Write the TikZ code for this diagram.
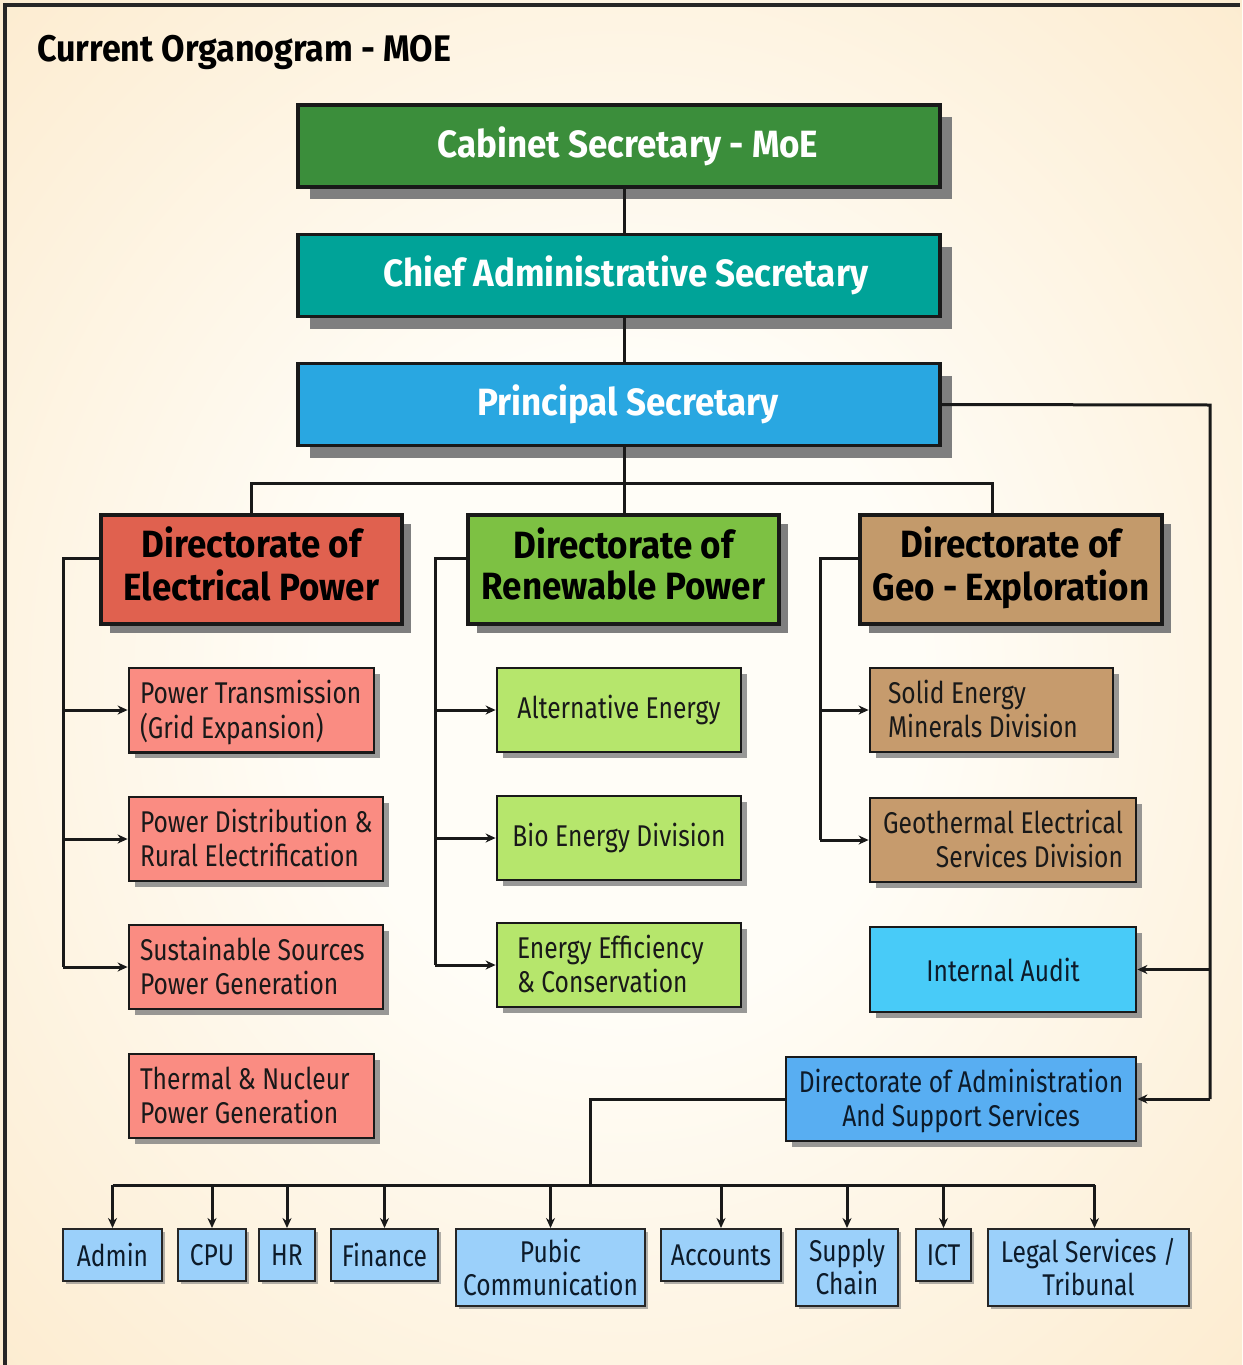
\documentclass[tikz,border=0pt]{standalone}
\usepackage{fontspec}
\setmainfont{Fira Sans}[FakeStretch=0.82]
\newfontfamily\headfont{Fira Sans}[FakeStretch=0.92]
\usetikzlibrary{arrows.meta,shadows}
\newcommand\lbx[2]{\raisebox{0pt}[\dimexpr\height+8pt\relax]{\makebox[#1][l]{\begin{tabular}{@{}l@{}}#2\end{tabular}}}}
\newcommand\rbx[2]{\raisebox{0pt}[\dimexpr\height+8pt\relax]{\makebox[#1][r]{\begin{tabular}{@{}r@{}}#2\end{tabular}}}}
\newcommand\cbx[1]{\begin{tabular}{@{}c@{}}#1\end{tabular}}
\newcommand\cbxs[1]{\raisebox{0pt}[\dimexpr\height+8pt\relax]{\begin{tabular}{@{}c@{}}#1\end{tabular}}}
\definecolor{bgin}{HTML}{FFFDF7}
\definecolor{bgout}{HTML}{FBE3BC}
\definecolor{cabc}{HTML}{3B8E3B}
\definecolor{chiefc}{HTML}{00A398}
\definecolor{princ}{HTML}{29A7E1}
\definecolor{elecc}{HTML}{E0614F}
\definecolor{renc}{HTML}{7DC143}
\definecolor{geoc}{HTML}{C39A6B}
\definecolor{salc}{HTML}{FA8C82}
\definecolor{lgrc}{HTML}{B6E66C}
\definecolor{tanc}{HTML}{C69B6D}
\definecolor{auditc}{HTML}{48CBF8}
\definecolor{admc}{HTML}{58AEF2}
\definecolor{botc}{HTML}{9BD0FA}
\definecolor{shadc}{HTML}{7F7F7F}
\definecolor{navy}{HTML}{0D1B2A}
\pgfdeclareradialshading{bgshade}{\pgfpoint{0bp}{0bp}}{color(0bp)=(bgin); color(12bp)=(bgin); color(48bp)=(bgout); color(50bp)=(bgout)}
\begin{document}
\begin{tikzpicture}[x=1pt,y=-1pt,
  conn/.style={draw=black!90, line width=3pt},
  arr/.style={-{Stealth[length=10pt,width=9pt]}},
  topbox/.style={draw=black!90, line width=3.5pt, text=white, minimum width=642pt, minimum height=82pt,
     font=\headfont\bfseries\fontsize{38}{44}\selectfont,
     drop shadow={shadow xshift=12pt, shadow yshift=-12pt, fill=shadc, opacity=1}},
  dirbox/.style={draw=black!90, line width=3.5pt, text=black, minimum height=109pt,
     font=\headfont\bfseries\fontsize{38}{41}\selectfont,
     drop shadow={shadow xshift=9pt, shadow yshift=-9pt, fill=shadc, opacity=1}},
  subbox/.style={draw=black!90, line width=2.8pt, text=black!90, minimum height=84pt,
     font=\fontsize{30}{34}\selectfont,
     drop shadow={shadow xshift=6pt, shadow yshift=-6pt, fill=shadc, opacity=0.8}},
  botbox/.style={draw=black!85, line width=2.4pt, text=navy, fill=botc, anchor=north,
     minimum height=52pt, inner xsep=5pt, inner ysep=1pt, font=\fontsize{30}{31}\selectfont,
     drop shadow={shadow xshift=3pt, shadow yshift=-3pt, fill=shadc, opacity=0.6}}
]
\useasboundingbox (0,0) rectangle (1242,1365);
\shade[shading=bgshade] (0,0) rectangle (1242,1365);
\draw[line width=4pt, black!85] (5,1370) -- (5,5) -- (1240,5);

\node[anchor=west, inner sep=0pt, font=\headfont\bfseries\fontsize{37}{42}\selectfont] (title) at (37,52) {Current Organogram - MOE};

\node[topbox, fill=cabc] (cab) at (619,146) {\hspace*{18pt}Cabinet Secretary - MoE};
\node[topbox, fill=chiefc] (chief) at (619,275.5) {\hspace*{14pt}Chief Administrative Secretary};
\node[topbox, fill=princ] (prin) at (619,404.5) {\hspace*{18pt}Principal Secretary};

\node[dirbox, fill=elecc, minimum width=301pt] (dirE) at (251.5,569.5) {\cbx{Directorate of\\Electrical Power}};
\node[dirbox, fill=renc, minimum width=311pt] (dirR) at (623.5,569.5) {\cbx{Directorate of\\Renewable Power}};
\node[dirbox, fill=geoc, minimum width=302pt] (dirG) at (1011,569.5) {\cbx{Directorate of\\Geo - Exploration}};

\node[subbox, fill=salc, minimum width=245pt, inner xsep=11pt] (ptrans) at (251.5,710) {\lbx{223pt}{Power Transmission\\(Grid Expansion)}};
\node[subbox, fill=salc, minimum width=254pt, inner xsep=11pt] (pdist) at (256,839) {\lbx{232pt}{Power Distribution \&\\Rural Electrification}};
\node[subbox, fill=salc, minimum width=254pt, inner xsep=11pt] (psust) at (256,967) {\lbx{232pt}{Sustainable Sources\\Power Generation}};
\node[subbox, fill=salc, minimum width=245pt, inner xsep=11pt] (ptherm) at (251.5,1096) {\lbx{223pt}{Thermal \& Nucleur\\Power Generation}};

\node[subbox, fill=lgrc, minimum width=244pt] (alt) at (619,710) {Alternative Energy};
\node[subbox, fill=lgrc, minimum width=244pt] (bio) at (619,838) {Bio Energy Division};
\node[subbox, fill=lgrc, minimum width=244pt, inner xsep=20pt] (eff) at (619,965) {\lbx{204pt}{Energy Efficiency\\\& Conservation}};

\node[subbox, fill=tanc, minimum width=243pt, inner xsep=18pt] (solid) at (991.5,710) {\lbx{207pt}{Solid Energy\\Minerals Division}};
\node[subbox, fill=tanc, minimum width=266pt, inner xsep=13pt] (geoth) at (1003,840) {\rbx{240pt}{Geothermal Electrical\\Services Division}};

\node[subbox, fill=auditc, text=navy, minimum width=266pt, minimum height=85pt] (audit) at (1003,969.5) {Internal Audit};
\node[subbox, fill=admc, text=navy, minimum width=350pt] (admdir) at (961,1099) {\cbxs{Directorate of Administration\\And Support Services}};

\node[botbox, minimum width=99pt] (admin) at (112.5,1228) {Admin};
\node[botbox, minimum width=68pt] (cpu) at (212,1228) {CPU};
\node[botbox, minimum width=56pt] (hr) at (287,1228) {HR};
\node[botbox, minimum width=107pt] (fin) at (384.5,1228) {Finance};
\node[botbox, minimum width=189pt, minimum height=77pt] (pub) at (550.5,1228) {\cbxs{Pubic\\Communication}};
\node[botbox, minimum width=120pt] (acc) at (721,1228) {Accounts};
\node[botbox, minimum width=102pt, minimum height=77pt] (sup) at (847,1228) {\cbxs{Supply\\Chain}};
\node[botbox, minimum width=55pt] (ict) at (943.5,1228) {ICT};
\node[botbox, minimum width=201pt, minimum height=77pt] (legal) at (1088.5,1228) {\cbxs{Legal Services /\\Tribunal}};

% top chain
\coordinate (bus) at (624,483);
\draw[conn] (cab.south -| bus) -- (chief.north -| bus);
\draw[conn] (chief.south -| bus) -- (prin.north -| bus);
\draw[conn] (prin.south -| bus) -- (bus);
\draw[conn] (dirE.north) |- (bus) -| ([xshift=-19pt]dirG.north);
\draw[conn] (bus) -- (dirR.north -| bus);

% electrical
\coordinate (eL) at (63,558);
\draw[conn] ([yshift=11.5pt]dirE.west) -- (eL) -- (eL |- psust.west);
\foreach \n in {ptrans,pdist,psust} \draw[conn,arr] (eL |- \n.west) -- (\n.west);
% renewable
\coordinate (rL) at (435,558);
\draw[conn] ([yshift=11.5pt]dirR.west) -- (rL) -- (rL |- eff.west);
\foreach \n in {alt,bio,eff} \draw[conn,arr] (rL |- \n.west) -- (\n.west);
% geo
\coordinate (gL) at (820,558);
\draw[conn] ([yshift=11.5pt]dirG.west) -- (gL) -- (gL |- geoth.west);
\foreach \n in {solid,geoth} \draw[conn,arr] (gL |- \n.west) -- (\n.west);

% right branch
\coordinate (rt) at (1210,405);
\draw[conn] (prin.east) -- (rt) -- (rt |- admdir.east);
\draw[conn,arr] (rt |- audit.east) -- (audit.east);
\draw[conn,arr] (rt |- admdir.east) -- (admdir.east);

% bottom
\coordinate (bb) at (590,1185);
\draw[conn] (admdir.west) -| (bb);
\draw[conn] (admin.north |- bb) -- ([xshift=6pt]legal.north |- bb);
\foreach \n in {admin,cpu,hr,fin,pub,acc,sup,ict} \draw[conn,arr] (\n.north |- bb) -- (\n.north);
\draw[conn,arr] ([xshift=6pt]legal.north |- bb) -- ([xshift=6pt]legal.north);
\end{tikzpicture}
\end{document}
